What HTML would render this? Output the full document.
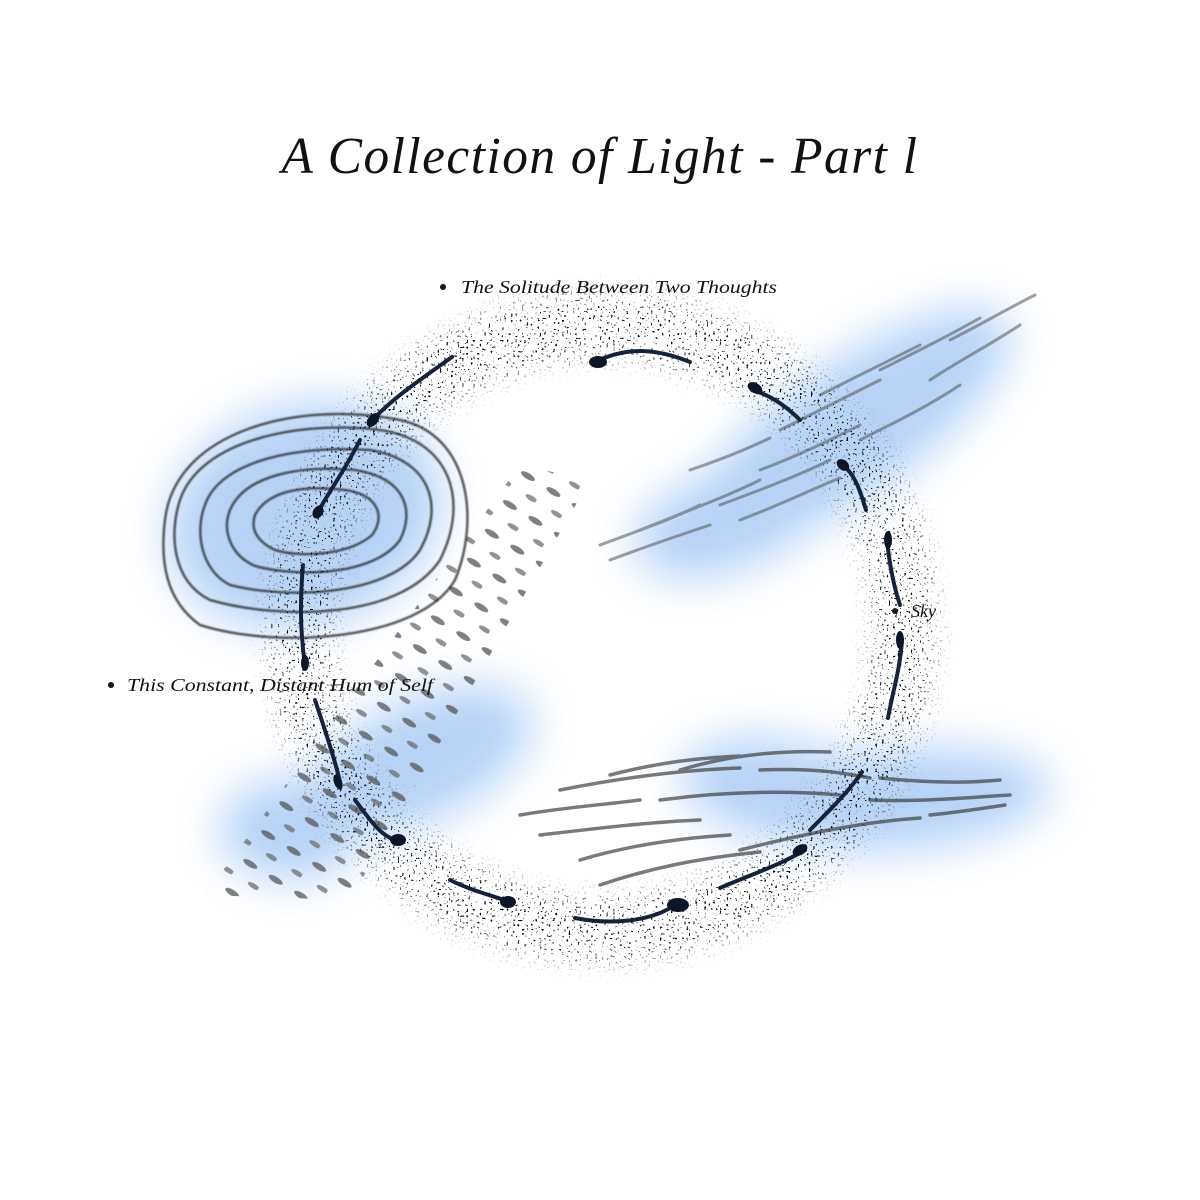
<!DOCTYPE html>
<html><head><meta charset="utf-8"><style>
html,body{margin:0;padding:0;background:#fff}
svg{display:block}
text{font-family:"Liberation Serif",serif;font-style:italic;fill:#111}
</style></head><body>
<svg width="1200" height="1200" viewBox="0 0 1200 1200" xmlns="http://www.w3.org/2000/svg">
<defs>
<filter id="blur" x="-50%" y="-50%" width="200%" height="200%"><feGaussianBlur stdDeviation="22"/></filter>
<filter id="blur2" x="-20%" y="-20%" width="140%" height="140%"><feGaussianBlur stdDeviation="0.8"/></filter>
<filter id="noise" x="0" y="0" width="100%" height="100%">
<feTurbulence type="fractalNoise" baseFrequency="0.45" numOctaves="1" seed="3"/>
<feColorMatrix values="0 0 0 0 0  0 0 0 0 0  0 0 0 0 0  -30 0 0 0 10.5"/>
</filter>
<filter id="ringblur" x="-20%" y="-20%" width="140%" height="140%"><feGaussianBlur stdDeviation="12"/></filter>
<mask id="ringmask" maskUnits="userSpaceOnUse" x="0" y="0" width="1200" height="1200">
<circle cx="602" cy="628" r="302" fill="none" stroke="#fff" stroke-width="62" filter="url(#ringblur)"/>
</mask>
<pattern id="ov" width="34" height="30" patternUnits="userSpaceOnUse" patternTransform="rotate(-58)">
<ellipse cx="12" cy="10" rx="3" ry="8" fill="#555" opacity="0.75"/>
<ellipse cx="29" cy="25" rx="2.5" ry="7" fill="#666" opacity="0.7"/>
</pattern>
<clipPath id="band"><polygon points="520,465 590,480 350,900 205,895"/></clipPath>
</defs>
<rect width="1200" height="1200" fill="#fff"/>
<text x="600" y="173" font-size="52" text-anchor="middle" letter-spacing="1.5" textLength="637" lengthAdjust="spacingAndGlyphs">A Collection of Light - Part l</text>

<g fill="#a9cbf5" filter="url(#blur)" opacity="0.85">
<ellipse cx="305" cy="515" rx="140" ry="110" transform="rotate(-20 305 515)"/>
<ellipse cx="850" cy="430" rx="190" ry="65" transform="rotate(-35 850 430)"/>
<ellipse cx="730" cy="520" rx="100" ry="50" transform="rotate(-20 730 520)"/>
<ellipse cx="420" cy="760" rx="120" ry="60" transform="rotate(-25 420 760)"/>
<ellipse cx="290" cy="830" rx="70" ry="50"/>
<ellipse cx="900" cy="800" rx="150" ry="50" transform="rotate(-5 900 800)"/>
<ellipse cx="780" cy="790" rx="100" ry="50" transform="rotate(10 780 790)"/>
</g>

<rect width="1200" height="1200" filter="url(#noise)" mask="url(#ringmask)"/>

<rect x="200" y="460" width="400" height="440" fill="url(#ov)" clip-path="url(#band)"/>

<g fill="none" stroke="#222" stroke-width="2.5" opacity="0.75" filter="url(#blur2)">
<path d="M180,500 C200,440 300,420 380,430 C450,440 470,500 440,560 C400,620 280,620 210,600 C170,580 170,530 180,500Z"/>
<path d="M205,505 C220,460 300,445 370,450 C430,460 445,505 420,550 C390,595 290,600 230,585 C200,570 195,530 205,505Z"/>
<path d="M230,510 C245,475 300,465 355,470 C405,478 415,510 400,540 C375,575 300,578 255,566 C230,555 222,530 230,510Z"/>
<path d="M255,515 C268,490 305,485 345,490 C380,495 385,518 372,535 C350,555 300,558 275,550 C258,542 250,530 255,515Z"/>
<path d="M165,520 C175,430 300,400 400,420 C470,435 480,520 455,580 C420,640 280,650 200,625 C165,600 160,560 165,520Z"/>
</g>

<g fill="none" stroke="#555" stroke-width="3" opacity="0.55" stroke-linecap="round">
<path d="M600,545 C640,530 670,520 700,505"/>
<path d="M640,530 C690,510 730,495 760,480"/>
<path d="M690,470 C720,460 745,450 770,438"/>
<path d="M720,505 C760,490 800,475 830,460"/>
<path d="M760,470 C800,455 830,440 860,425"/>
<path d="M780,430 C820,410 850,395 880,380"/>
<path d="M820,395 C860,375 890,360 920,345"/>
<path d="M860,440 C900,420 930,405 960,385"/>
<path d="M880,370 C920,350 950,335 980,318"/>
<path d="M930,380 C960,360 990,345 1020,325"/>
<path d="M950,340 C980,325 1005,310 1035,295"/>
<path d="M610,560 C650,545 680,535 710,525"/>
<path d="M740,520 C780,505 810,490 840,478"/>
</g>

<g fill="none" stroke="#333" stroke-width="3.5" opacity="0.65" stroke-linecap="round">
<path d="M520,815 C560,808 600,805 640,800"/>
<path d="M660,800 C720,792 780,790 840,795"/>
<path d="M870,800 C920,802 960,798 1010,795"/>
<path d="M560,790 C620,778 680,770 740,768"/>
<path d="M760,770 C810,768 840,772 870,778"/>
<path d="M610,775 C660,762 700,758 740,756"/>
<path d="M540,835 C600,828 650,822 700,820"/>
<path d="M580,860 C630,845 680,838 730,835"/>
<path d="M600,885 C650,868 700,858 760,852"/>
<path d="M740,850 C800,835 860,822 920,818"/>
<path d="M930,815 C960,812 985,808 1005,805"/>
<path d="M680,770 C730,755 780,750 830,752"/>
<path d="M880,778 C920,782 960,784 1000,780"/>
</g>

<g fill="none" stroke="#14233a" stroke-width="4" stroke-linecap="round">
<path d="M452,357 C420,380 390,400 373,420"/>
<path d="M360,440 C345,470 330,490 318,512"/>
<path d="M303,565 C300,600 300,630 305,665"/>
<path d="M315,700 C325,730 335,760 340,782"/>
<path d="M355,800 C370,820 380,835 395,840"/>
<path d="M450,880 C470,890 490,895 510,902"/>
<path d="M575,918 C610,925 650,922 675,905"/>
<path d="M720,888 C750,875 780,865 805,850"/>
<path d="M810,830 C830,810 850,790 862,772"/>
<path d="M595,362 C630,345 660,350 690,362"/>
<path d="M752,390 C770,395 785,405 800,420"/>
<path d="M843,465 C855,475 860,490 866,510"/>
<path d="M887,540 C890,570 895,590 900,605"/>
<path d="M902,640 C900,670 893,690 888,718"/>
</g>
<g fill="#0c1626">
<ellipse cx="598" cy="362" rx="9" ry="6"/>
<ellipse cx="755" cy="388" rx="8" ry="5" transform="rotate(30 755 388)"/>
<ellipse cx="843" cy="465" rx="7" ry="5" transform="rotate(40 843 465)"/>
<ellipse cx="888" cy="540" rx="4" ry="9"/>
<ellipse cx="900" cy="640" rx="4" ry="9"/>
<ellipse cx="373" cy="420" rx="5" ry="8" transform="rotate(40 373 420)"/>
<ellipse cx="318" cy="512" rx="5" ry="7" transform="rotate(30 318 512)"/>
<ellipse cx="305" cy="663" rx="4" ry="8"/>
<ellipse cx="338" cy="782" rx="4" ry="8" transform="rotate(-20 338 782)"/>
<ellipse cx="398" cy="840" rx="8" ry="6"/>
<ellipse cx="508" cy="902" rx="8" ry="6"/>
<ellipse cx="678" cy="905" rx="11" ry="7"/>
<ellipse cx="800" cy="850" rx="8" ry="5" transform="rotate(-30 800 850)"/>
<circle cx="443" cy="287" r="3"/>
<circle cx="111" cy="685" r="3"/>
<circle cx="895" cy="611" r="3"/>
</g>

<text x="461" y="293" font-size="18" textLength="316" lengthAdjust="spacingAndGlyphs">The Solitude Between Two Thoughts</text>
<text x="127" y="691" font-size="18" textLength="306" lengthAdjust="spacingAndGlyphs">This Constant, Distant Hum of Self</text>
<text x="911" y="617" font-size="18">Sky</text>
</svg>
</body></html>
